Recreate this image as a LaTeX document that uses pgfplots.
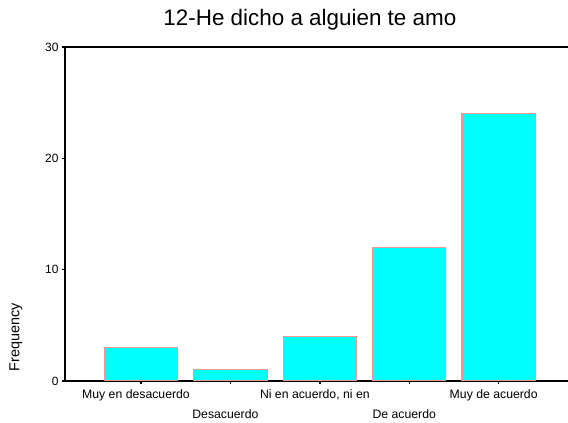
\documentclass[border=0pt]{standalone}
\usepackage{pgfplots}
\pgfplotsset{compat=1.18}
\usepackage{fontspec}
\setmainfont{Liberation Sans}
\definecolor{barfill}{RGB}{0,255,255}
\definecolor{baredge}{RGB}{236,150,150}
\begin{document}
\begin{tikzpicture}
\begin{axis}[
  scale only axis,
  width=507bp, height=334bp,
  xmin=-0.85, xmax=4.82,
  ymin=0, ymax=30,
  ytick={0,10,20,30},
  xtick={0,2,4},
  xticklabels={Muy en desacuerdo, Ni en acuerdo{,} ni en, Muy de acuerdo},
  extra x ticks={1,3},
  extra x tick labels={Desacuerdo, De acuerdo},
  extra x tick style={xticklabel style={yshift=-20bp}},
  xticklabel style={font=\fontsize{12.3}{14}\selectfont, xshift=-5bp, yshift=-2bp},
  yticklabel style={font=\fontsize{12}{14}\selectfont},
  tick align=outside,
  xtick pos=bottom, ytick pos=left,
  major tick length=3bp,
  tick style={black, line width=1.5bp},
  axis line style={black, line width=1.2bp},
  /pgf/number format/assume math mode=true,
  title={12-He dicho a alguien te amo},
  title style={font=\fontsize{22.5}{26}\selectfont, at={(rel axis cs:0.483,1.045)}, anchor=base},
  ylabel={Frequency},
  ylabel style={font=\fontsize{14.5}{17}\selectfont, at={(rel axis cs:-0.0966,0.132)}, anchor=center},
]
\addplot[ybar, bar width=0.82, fill=barfill, draw=baredge, line width=1.1bp]
  coordinates {(0,3) (1,1) (2,4) (3,12) (4,24)};
\end{axis}
\pgfresetboundingbox
\path (-65bp,-42bp) rectangle (503bp,381bp);
\end{tikzpicture}
\end{document}
